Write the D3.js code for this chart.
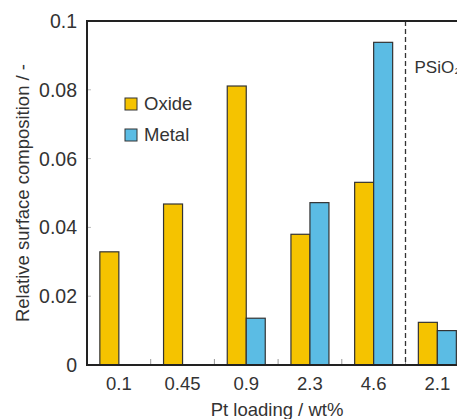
<!DOCTYPE html>
<html>
<head>
<meta charset="utf-8">
<script src="https://cdn.jsdelivr.net/npm/d3@7"></script>
<style>
  body { margin: 0; background: #fff; }
  svg { display: block; font-family: "Liberation Sans", Arial, sans-serif; }
</style>
</head>
<body>
<svg id="chart" width="457" height="419"></svg>
<script>
const loadings = ["0.1", "0.45", "0.9", "2.3", "4.6", "2.1"];
const oxide = [0.0329, 0.0468, 0.0811, 0.038, 0.0531, 0.0124];
const metal = [null, null, 0.0136, 0.0472, 0.0938, 0.010];
const yTicks = [0, 0.02, 0.04, 0.06, 0.08, 0.1];

const svg = d3.select("#chart"),
  width = +svg.attr("width"),
  height = +svg.attr("height"),
  margin = { top: 21, left: 87, bottom: 54 };

const bandW = 63.7;
const x = d3.scaleBand()
  .domain(loadings)
  .range([margin.left, margin.left + bandW * loadings.length])
  .padding(0);
const y = d3.scaleLinear().domain([0, 0.1]).range([height - margin.bottom, margin.top]);

const barW = 19;
const oxideCol = "#f5c300", metalCol = "#5bbce4";
const ink = "#333";

// grey inner ticks on y axis
svg.append("g")
  .selectAll("line")
  .data(yTicks.slice(1, -1))
  .join("line")
  .attr("x1", margin.left).attr("x2", margin.left + 4)
  .attr("y1", d => y(d)).attr("y2", d => y(d))
  .attr("stroke", "#bbb").attr("stroke-width", 1);

// grey inner ticks at band boundaries on x axis
svg.append("g")
  .selectAll("line")
  .data(loadings.slice(1))
  .join("line")
  .attr("x1", d => x(d)).attr("x2", d => x(d))
  .attr("y1", y(0)).attr("y2", y(0) - 6)
  .attr("stroke", "#999").attr("stroke-width", 1);

// dashed separator before the last group
const sepX = x(loadings[loadings.length - 1]);
svg.append("line")
  .attr("x1", sepX).attr("x2", sepX)
  .attr("y1", y(0.1)).attr("y2", y(0))
  .attr("stroke", "#333").attr("stroke-width", 1.3)
  .attr("stroke-dasharray", "5,3");

svg.append("text")
  .attr("x", sepX + 9).attr("y", 73)
  .attr("font-size", 17).attr("fill", ink)
  .text("PSiO₂");

const center = d => x(d) + x.bandwidth() / 2;

svg.append("g")
  .selectAll("rect")
  .data(loadings.map((c, i) => ({ c, v: oxide[i] })).filter(d => d.v != null))
  .join("rect")
  .attr("x", d => center(d.c) - barW)
  .attr("y", d => y(d.v))
  .attr("width", barW)
  .attr("height", d => y(0) - y(d.v))
  .attr("fill", oxideCol)
  .attr("stroke", "#333").attr("stroke-width", 1.2);

svg.append("g")
  .selectAll("rect")
  .data(loadings.map((c, i) => ({ c, v: metal[i] })).filter(d => d.v != null))
  .join("rect")
  .attr("x", d => center(d.c))
  .attr("y", d => y(d.v))
  .attr("width", barW)
  .attr("height", d => y(0) - y(d.v))
  .attr("fill", metalCol)
  .attr("stroke", "#333").attr("stroke-width", 1.2);

// frame: left, bottom and top lines
svg.append("path")
  .attr("d", `M${width + 5},${y(0.1)}H${margin.left}V${y(0)}H${width + 5}`)
  .attr("fill", "none").attr("stroke", "#222").attr("stroke-width", 2);

// y tick labels
svg.append("g")
  .selectAll("text")
  .data(yTicks)
  .join("text")
  .attr("x", 77).attr("y", d => y(d) + 7)
  .attr("text-anchor", "end")
  .attr("font-size", 19.5).attr("fill", ink)
  .text(d => d === 0 ? "0" : d3.format("~g")(d));

// x tick labels
svg.append("g")
  .selectAll("text")
  .data(loadings)
  .join("text")
  .attr("x", d => center(d)).attr("y", 390)
  .attr("text-anchor", "middle")
  .attr("font-size", 18.5).attr("fill", ink)
  .text(d => d);

svg.append("text")
  .attr("x", 277).attr("y", 416)
  .attr("text-anchor", "middle")
  .attr("font-size", 18.5).attr("fill", ink)
  .text("Pt loading / wt%");

svg.append("text")
  .attr("transform", `translate(29,${(y(0) + y(0.1)) / 2}) rotate(-90)`)
  .attr("text-anchor", "middle")
  .attr("font-size", 18.5).attr("fill", ink)
  .text("Relative surface composition / -");

// legend
const legend = svg.append("g").attr("transform", "translate(125,98)");
[["Oxide", oxideCol], ["Metal", metalCol]].forEach(([name, col], i) => {
  legend.append("rect")
    .attr("x", 0).attr("y", i * 31)
    .attr("width", 12).attr("height", 12)
    .attr("fill", col).attr("stroke", "#333").attr("stroke-width", 1);
  legend.append("text")
    .attr("x", 19).attr("y", i * 31 + 12)
    .attr("font-size", 18.5).attr("fill", ink)
    .text(name);
});
</script>
</body>
</html>
